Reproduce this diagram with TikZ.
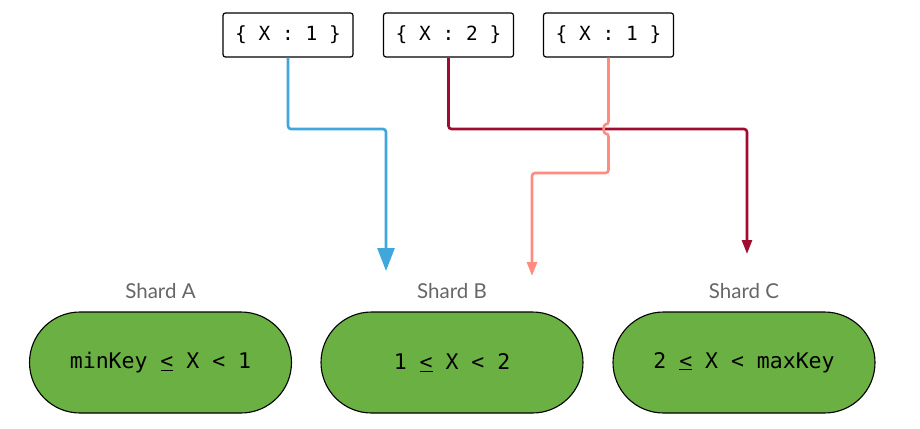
\documentclass[tikz,border=0pt]{standalone}
\usepackage{fontspec}
\setmonofont{DejaVu Sans Mono}
\newfontfamily\labelfont{Lato}
\usetikzlibrary{arrows.meta,shapes.misc}
\definecolor{shardgreen}{HTML}{6AB042}
\definecolor{cblue}{HTML}{3FA7DC}
\definecolor{cred}{HTML}{A00C2F}
\definecolor{csalmon}{HTML}{FF8C7F}
\definecolor{lblgray}{HTML}{666666}
\tikzset{
  docbox/.style={draw=black, line width=1.2pt, rounded corners=2.5pt, minimum width=130pt, minimum height=44pt, inner sep=0pt, font=\ttfamily\fontsize{19.5}{22}\selectfont},
  shard/.style={draw=black, line width=1.1pt, fill=shardgreen, rounded rectangle, minimum width=262pt, minimum height=101pt, inner sep=0pt, font=\ttfamily\fontsize{21.5}{24}\selectfont},
  shardlabel/.style={text=lblgray, font=\labelfont\fontsize{20.5}{22}\selectfont},
  conn/.style={line width=2.6pt, rounded corners=3pt},
}
\begin{document}
\begin{tikzpicture}[x=1pt,y=-1pt]
\useasboundingbox (0,0) rectangle (920,428);
\node[docbox] (b1) at (288,35) {\{ X : 1 \}};
\node[docbox] (b2) at (448.5,35) {\{ X : 2 \}};
\node[docbox] (b3) at (608.5,35) {\{ X : 1 \}};
\node[shard] (sa) at (160.5,362.5) {minKey \underline{<} X < 1};
\node[shard] (sb) at (452,362.5) {1 \underline{<} X < 2};
\node[shard] (sc) at (744,362.5) {2 \underline{<} X < maxKey};
\node[shardlabel] (la) at (160.5,291) {Shard A};
\node[shardlabel] (lb) at (452,291) {Shard B};
\node[shardlabel] (lc) at (744,291) {Shard C};
\coordinate (ta) at (386,271);
\coordinate (tb) at (532,276);
\coordinate (tc) at (747,254);
\draw[conn, cblue, -{Triangle[width=17pt,length=23pt]}] (b1.south) |- (386,129) -- (ta);
\draw[conn, cred, -{Triangle[width=10pt,length=14pt]}] (b2.south) |- (747,129) -- (tc);
\draw[conn, csalmon, -{Triangle[width=10pt,length=14pt]}] (b3.south) -- (608.5,124.5) .. controls (603,124.5) and (603,133.5) .. (608.5,133.5) -- (608.5,173) -- (532,173) -- (tb);
\end{tikzpicture}
\end{document}
